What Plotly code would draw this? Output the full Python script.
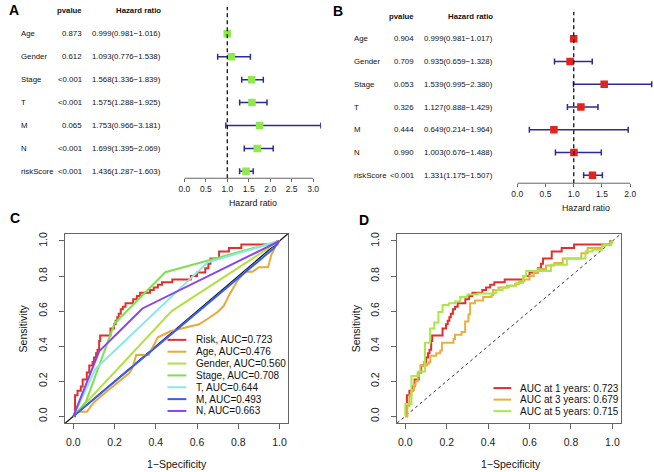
import plotly.graph_objects as go

W, H = 654, 472
FONT = "Liberation Sans, Arial, Helvetica, sans-serif"

# ---------------- data ----------------
variables = ["Age", "Gender", "Stage", "T", "M", "N", "riskScore"]

uni_p = ["0.873", "0.612", "<0.001", "<0.001", "0.065", "<0.001", "<0.001"]
uni_hr = [0.999, 1.093, 1.568, 1.575, 1.753, 1.699, 1.436]
uni_lo = [0.981, 0.776, 1.336, 1.288, 0.966, 1.395, 1.287]
uni_hi = [1.016, 1.538, 1.839, 1.925, 3.181, 2.069, 1.603]

multi_p = ["0.904", "0.709", "0.053", "0.326", "0.444", "0.990", "<0.001"]
multi_hr = [0.999, 0.935, 1.539, 1.127, 0.649, 1.003, 1.331]
multi_lo = [0.981, 0.659, 0.995, 0.888, 0.214, 0.676, 1.175]
multi_hi = [1.017, 1.328, 2.380, 1.429, 1.964, 1.488, 1.507]

ticks_a = [0.0, 0.5, 1.0, 1.5, 2.0, 2.5, 3.0]
ticks_b = [0.0, 0.5, 1.0, 1.5, 2.0]
roc_ticks = [0.0, 0.2, 0.4, 0.6, 0.8, 1.0]

# ROC (panel C) - clinical features + risk score
roc_names = ["Risk", "Age", "Gender", "Stage", "T", "M", "N"]
roc_auc = ["0.723", "0.476", "0.560", "0.708", "0.644", "0.493", "0.663"]

# risk score ROC (step points: fpr where tpr rises, new tpr)
risk_fpr = [0, 0.008, 0.02, 0.036, 0.045, 0.065, 0.077, 0.093, 0.10, 0.11, 0.117, 0.125, 0.13,
            0.18, 0.197, 0.205, 0.213, 0.22, 0.23, 0.24, 0.253, 0.29, 0.308, 0.324, 0.372,
            0.39, 0.41, 0.43, 0.48, 0.57, 0.60, 0.64, 0.655, 0.665, 0.707, 0.755, 0.815,
            0.99, 1.0]
risk_tpr = [0, 0.12, 0.145, 0.17, 0.21, 0.25, 0.29, 0.31, 0.335, 0.36, 0.38, 0.43, 0.46,
            0.50, 0.525, 0.545, 0.565, 0.585, 0.61, 0.625, 0.644, 0.667, 0.686, 0.705, 0.72,
            0.735, 0.75, 0.765, 0.78, 0.80, 0.82, 0.845, 0.87, 0.90, 0.94, 0.96, 0.98,
            1.0, 1.0]

age_fpr = [0, 0.01, 0.065, 0.10, 0.16, 0.22, 0.27, 0.285, 0.305, 0.365, 0.41, 0.47, 0.52,
           0.57, 0.61, 0.65, 0.70, 0.73, 0.76, 0.80, 0.835, 0.87, 0.90, 0.945, 0.96, 0.99, 1.0]
age_tpr = [0, 0.025, 0.025, 0.08, 0.14, 0.20, 0.245, 0.27, 0.35, 0.35, 0.45, 0.485, 0.50,
           0.515, 0.525, 0.555, 0.595, 0.63, 0.70, 0.78, 0.825, 0.825, 0.85, 0.85, 0.92, 0.99, 1.0]

gender_fpr = [0, 0.477, 1.0]
gender_tpr = [0, 0.60, 1.0]

stage_fpr = [0, 0.06, 0.20, 0.446, 1.0]
stage_tpr = [0, 0.08, 0.53, 0.822, 1.0]

t_fpr = [0, 0.107, 0.65, 1.0]
t_tpr = [0, 0.27, 0.877, 1.0]

m_fpr = [0, 0.97, 1.0]
m_tpr = [0, 0.956, 1.0]

n_fpr = [0, 0.125, 0.335, 1.0]
n_tpr = [0, 0.37, 0.615, 1.0]

# time-dependent ROC (panel D)
years = [1, 3, 5]
year_auc = ["0.723", "0.679", "0.715"]

y3_fpr = [0, 0.01, 0.02, 0.03, 0.042, 0.05, 0.06, 0.073, 0.105, 0.115, 0.121, 0.15, 0.169,
          0.177, 0.233, 0.24, 0.272, 0.289, 0.305, 0.313, 0.337, 0.376, 0.416, 0.424, 0.45,
          0.49, 0.53, 0.55, 0.575, 0.60, 0.62, 0.64, 0.68, 0.72, 0.76, 0.85, 0.88, 0.95,
          0.99, 1.0]
y3_tpr = [0, 0.06, 0.12, 0.15, 0.18, 0.20, 0.25, 0.29, 0.30, 0.31, 0.345, 0.36, 0.375,
          0.42, 0.44, 0.465, 0.48, 0.54, 0.58, 0.645, 0.66, 0.68, 0.69, 0.72, 0.735,
          0.745, 0.755, 0.77, 0.78, 0.80, 0.82, 0.84, 0.86, 0.875, 0.90, 0.93, 0.96, 0.975,
          0.99, 1.0]

y5_fpr = [0, 0.0, 0.03, 0.065, 0.095, 0.12, 0.14, 0.16, 0.18, 0.21, 0.24, 0.265, 0.30, 0.35,
          0.43, 0.44, 0.47, 0.50, 0.536, 0.568, 0.584, 0.703, 0.78, 0.87, 0.903, 0.95, 0.96,
          0.995, 1.0]
y5_tpr = [0, 0.07, 0.23, 0.255, 0.42, 0.50, 0.535, 0.595, 0.635, 0.645, 0.655, 0.68, 0.695,
          0.70, 0.705, 0.72, 0.735, 0.745, 0.76, 0.80, 0.828, 0.865, 0.90, 0.94, 0.95, 0.97,
          0.98, 1.0, 1.0]

# ---------------- styles ----------------
GREEN_SQ = "#8EE84E"
RED_SQ = "#E2231E"
BAR = "#2A2A98"
roc_colors = ["#E0302E", "#E6A93A", "#B4E044", "#7EE052", "#8CE8E8", "#3A5CF0", "#8A44EE"]
year_colors = ["#E0302E", "#E8B040", "#A8E848"]
AXC = "#666666"


def fx(px):
    return px / W


def fy(py):
    return 1 - py / H


fig = go.Figure()
annotations = []
shapes = []

nrow = len(variables)
rows = [nrow - i for i in range(nrow)]  # 7..1 top to bottom


def forest(hr, lo, hi, color, xa, ya):
    fig.add_trace(go.Scatter(
        x=hr, y=rows, mode="markers", xaxis=xa, yaxis=ya, showlegend=False,
        marker=dict(symbol="square", size=7.5, color=color, line=dict(width=0)),
        error_x=dict(type="data", symmetric=False,
                     array=[h - m for h, m in zip(hi, hr)],
                     arrayminus=[m - l for m, l in zip(hr, lo)],
                     color=BAR, thickness=1.5, width=3),
    ))


forest(uni_hr, uni_lo, uni_hi, GREEN_SQ, "x", "y")
forest(multi_hr, multi_lo, multi_hi, RED_SQ, "x2", "y2")


def forest_text(yref, pvals, hr, lo, hi, x_lab, x_p, x_hr):
    tf = dict(family=FONT, size=7.8, color="#111")
    for r, v, p, h, l, u in zip(rows, variables, pvals, hr, lo, hi):
        annotations.append(dict(x=fx(x_lab), y=r, xref="paper", yref=yref, text=v,
                                showarrow=False, xanchor="left", yanchor="middle", font=tf))
        annotations.append(dict(x=fx(x_p), y=r, xref="paper", yref=yref, text=p,
                                showarrow=False, xanchor="right", yanchor="middle", font=tf))
        annotations.append(dict(x=fx(x_hr), y=r, xref="paper", yref=yref,
                                text="%.3f(%.3f\u2212%.3f)" % (h, l, u),
                                showarrow=False, xanchor="right", yanchor="middle", font=tf))
    hf = dict(family=FONT, size=7.8, color="#111")
    annotations.append(dict(x=fx(x_p), y=nrow + 1, xref="paper", yref=yref, text="<b>pvalue</b>",
                            showarrow=False, xanchor="right", yanchor="middle", font=hf))
    annotations.append(dict(x=fx(x_hr), y=nrow + 1, xref="paper", yref=yref,
                            text="<b>Hazard ratio</b>", showarrow=False, xanchor="right",
                            yanchor="middle", font=hf))


forest_text("y", uni_p, uni_hr, uni_lo, uni_hi, 13, 79, 158)
forest_text("y2", multi_p, multi_hr, multi_lo, multi_hi, 349, 414, 494)

# reference lines and R-style axis lines for forest plots
for xr, yr, tks in (("x", "y", ticks_a), ("x2", "y2", ticks_b)):
    shapes.append(dict(type="line", xref=xr, yref=yr + " domain", x0=1, x1=1, y0=0, y1=1,
                       line=dict(color="#111", width=1.3, dash="4px,3px")))
    shapes.append(dict(type="line", xref=xr, yref=yr + " domain", x0=tks[0], x1=tks[-1],
                       y0=0, y1=0, line=dict(color=AXC, width=1)))

# ---------------- ROC panel C ----------------
roc_data = [(risk_fpr, risk_tpr), (age_fpr, age_tpr), (gender_fpr, gender_tpr),
            (stage_fpr, stage_tpr), (t_fpr, t_tpr), (m_fpr, m_tpr), (n_fpr, n_tpr)]

shapes.append(dict(type="line", xref="x3 domain", yref="y3 domain", x0=0, y0=0, x1=1, y1=1,
                   line=dict(color="#111", width=1.2), layer="below"))
for i, (name, (fp, tp)) in enumerate(zip(roc_names, roc_data)):
    fig.add_trace(go.Scatter(x=fp, y=tp, mode="lines", xaxis="x3", yaxis="y3",
                             showlegend=False, name=name,
                             line=dict(color=roc_colors[i], width=2,
                                       shape="hv" if name == "Risk" else "linear")))

# ---------------- ROC panel D ----------------
shapes.append(dict(type="line", xref="x4 domain", yref="y4 domain", x0=0, y0=0, x1=1, y1=1,
                   line=dict(color="#333", width=1, dash="3px,3px"), layer="below"))
year_data = [(risk_fpr, risk_tpr), (y3_fpr, y3_tpr), (y5_fpr, y5_tpr)]
for i, (yv, (fp, tp)) in enumerate(zip(years, year_data)):
    fig.add_trace(go.Scatter(x=fp, y=tp, mode="lines", xaxis="x4", yaxis="y4",
                             showlegend=False, line=dict(color=year_colors[i], width=2, shape="hv")))

# legends (drawn manually, R-style, no box)
lf = dict(family=FONT, size=10, color="#111")
for i, (name, auc) in enumerate(zip(roc_names, roc_auc)):
    yy = 339.3 + i * 11.9
    shapes.append(dict(type="line", xref="paper", yref="paper", x0=fx(163), x1=fx(182),
                       y0=fy(yy), y1=fy(yy), line=dict(color=roc_colors[i], width=2)))
    annotations.append(dict(x=fx(190), y=fy(yy), xref="paper", yref="paper",
                            text="%s, AUC=%s" % (name, auc), showarrow=False,
                            xanchor="left", yanchor="middle", font=lf))
for i, (yv, auc) in enumerate(zip(years, year_auc)):
    yy = 387.7 + i * 11.6
    shapes.append(dict(type="line", xref="paper", yref="paper", x0=fx(492), x1=fx(510),
                       y0=fy(yy), y1=fy(yy), line=dict(color=year_colors[i], width=2)))
    annotations.append(dict(x=fx(517), y=fy(yy), xref="paper", yref="paper",
                            text="AUC at %d years: %s" % (yv, auc), showarrow=False,
                            xanchor="left", yanchor="middle", font=lf))

# axis titles
tf11 = dict(family=FONT, size=10.5, color="#111")
for cx, sx in ((173, 17), (510, 353)):
    annotations.append(dict(x=fx(cx), y=fy(464), xref="paper", yref="paper",
                            text="1\u2212Specificity", showarrow=False, font=tf11,
                            xanchor="center", yanchor="middle"))
    annotations.append(dict(x=fx(sx), y=fy(328), xref="paper", yref="paper",
                            text="Sensitivity", showarrow=False, font=tf11, textangle=-90,
                            xanchor="center", yanchor="middle"))
tf9 = dict(family=FONT, size=8.8, color="#111")
annotations.append(dict(x=fx(249), y=fy(202), xref="paper", yref="paper", text="Hazard ratio",
                        showarrow=False, font=tf9, xanchor="center", yanchor="middle"))
annotations.append(dict(x=fx(585), y=fy(207), xref="paper", yref="paper", text="Hazard ratio",
                        showarrow=False, font=tf9, xanchor="center", yanchor="middle"))

# panel letters
pf = dict(family=FONT, size=14, color="#000")
for letter, (px, py) in zip("ABCD", [(8, 8), (335, 9), (9, 217), (361, 219)]):
    annotations.append(dict(x=fx(px), y=fy(py), xref="paper", yref="paper",
                            text="<b>%s</b>" % letter, showarrow=False, font=pf,
                            xanchor="center", yanchor="middle"))

# ---------------- axes ----------------
tick_font_small = dict(family=FONT, size=8.5, color="#222")
tick_font = dict(family=FONT, size=10.5, color="#222")

forest_x = dict(showgrid=False, zeroline=False, showline=False, ticks="outside", ticklen=3,
                tickcolor=AXC, tickfont=tick_font_small, tickformat=".1f", fixedrange=True)
forest_y = dict(showgrid=False, zeroline=False, showline=False, showticklabels=False,
                ticks="", fixedrange=True)

roc_x = dict(range=[-0.04, 1.04], showgrid=False, zeroline=False, showline=True, mirror=True,
             linecolor=AXC, linewidth=1, ticks="outside", ticklen=5, tickcolor=AXC,
             tickvals=roc_ticks, tickformat=".1f", tickfont=tick_font, ticklabelstandoff=4)
roc_y = dict(roc_x)
roc_y.update(tickangle=-90, ticklabelstandoff=8)

py_top_cd, py_bot_cd = 232.96, 423.04

fig.update_layout(
    width=W, height=H, margin=dict(l=0, r=0, t=0, b=0),
    paper_bgcolor="white", plot_bgcolor="white", showlegend=False,
    font=dict(family=FONT, color="#111"),
    xaxis=dict(forest_x, domain=[fx(180), fx(318)], range=[0, 138 / 130 * 3], tickvals=ticks_a,
               anchor="y"),
    yaxis=dict(forest_y, domain=[fy(177), fy(5)], range=[1 - 7 / 23, 1 + 165 / 23], anchor="x"),
    xaxis2=dict(forest_x, domain=[fx(516), 1.0], range=[0, 138 / 57], tickvals=ticks_b,
                anchor="y2"),
    yaxis2=dict(forest_y, domain=[fy(182), fy(10)], range=[1 - 8 / 22.83, 1 + 164 / 22.83],
                anchor="x2"),
    xaxis3=dict(roc_x, domain=[fx(59.7), fx(284.3)], anchor="y3"),
    yaxis3=dict(roc_y, domain=[fy(py_bot_cd), fy(py_top_cd)], anchor="x3"),
    xaxis4=dict(roc_x, domain=[fx(394.6), fx(620.4)], anchor="y4"),
    yaxis4=dict(roc_y, domain=[fy(py_bot_cd), fy(py_top_cd)], anchor="x4"),
    annotations=annotations, shapes=shapes,
)

fig.write_html(
    "out.html",
    config={"displayModeBar": False},
    post_script="document.body.style.margin='0';document.body.style.overflow='hidden';",
)
